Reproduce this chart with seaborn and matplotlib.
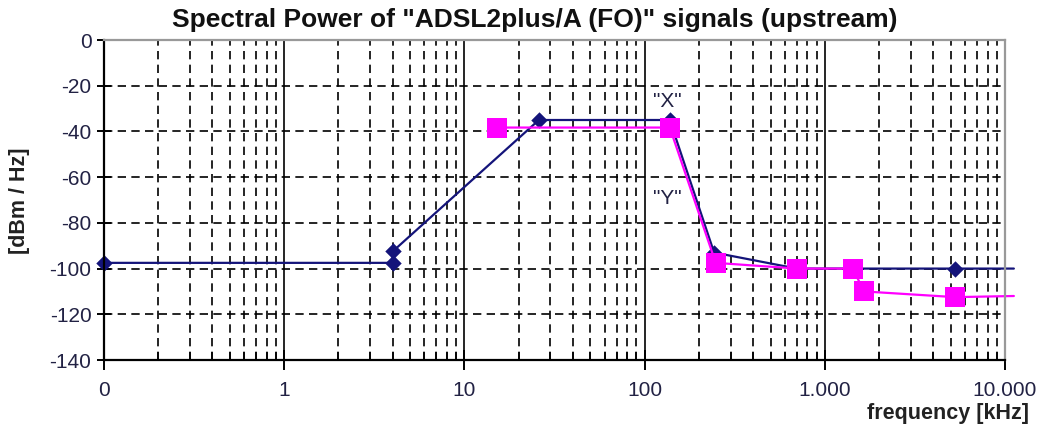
import numpy as np
import pandas as pd
import matplotlib
matplotlib.use("Agg")
import matplotlib.pyplot as plt
import seaborn as sns
from matplotlib.ticker import FixedLocator, FixedFormatter, LogLocator, NullFormatter

# ---- data ----
blue_freq = [0.1, 4.0, 4.0, 25.9, 138, 243, 700, 5300, 11200]
blue_dbm = [-97.5, -97.5, -92.5, -35, -35, -93, -100, -100, -100]
mag_freq = [15.2, 138, 248, 700, 1430, 1650, 5300, 11200]
mag_dbm = [-38.3, -38.3, -97.5, -100, -100, -110, -112.5, -112]
x_ticks = [0.1, 1, 10, 100, 1000, 10000]
x_ticklabels = ["0", "1", "10", "100", "1.000", "10.000"]
y_ticks = [0, -20, -40, -60, -80, -100, -120, -140]

NAVY = "#14147a"
MAGENTA = "#ff00ff"

sns.set_style("white")
plt.rcParams["font.family"] = ["Liberation Sans", "DejaVu Sans"]
plt.rcParams["axes.unicode_minus"] = False
plt.rcParams["xtick.bottom"] = True
plt.rcParams["ytick.left"] = True

fig = plt.figure(figsize=(10.43, 4.29), dpi=100)
ax = fig.add_axes([104 / 1043, 69 / 429, 901 / 1043, 320 / 429])

blue = pd.DataFrame({"f": blue_freq, "p": blue_dbm})
mag = pd.DataFrame({"f": mag_freq, "p": mag_dbm})

sns.lineplot(data=blue, x="f", y="p", sort=False, estimator=None, color=NAVY,
             lw=1.6, ax=ax)
ax.lines[-1].set_clip_on(False)
sns.scatterplot(data=blue.iloc[:-1], x="f", y="p", marker="D", s=70, color=NAVY,
                edgecolor=NAVY, linewidth=0, ax=ax, zorder=4)
for c in ax.collections:
    c.set_clip_on(False)

sns.lineplot(data=mag, x="f", y="p", sort=False, estimator=None, color=MAGENTA,
             lw=1.6, ax=ax)
ax.lines[-1].set_clip_on(False)
ax.lines[-1].set_zorder(5)
sns.scatterplot(data=mag.iloc[:-1], x="f", y="p", marker="s", s=190, color=MAGENTA,
                edgecolor=MAGENTA, linewidth=0, ax=ax, zorder=6)

ax.set_xscale("log")
ax.set_xlim(0.1, 10000)
ax.set_ylim(-140, 0)

ax.xaxis.set_major_locator(FixedLocator(x_ticks))
ax.xaxis.set_major_formatter(FixedFormatter(x_ticklabels))
ax.xaxis.set_minor_locator(LogLocator(base=10, subs=np.arange(2, 10)))
ax.xaxis.set_minor_formatter(NullFormatter())
ax.yaxis.set_major_locator(FixedLocator(y_ticks))

dash = (0, (5, 3.2))
ax.grid(which="major", axis="y", color="black", lw=1.2, ls=dash)
ax.grid(which="major", axis="x", color="black", lw=1.2, ls="-")
ax.grid(which="minor", axis="x", color="black", lw=1.2, ls=dash)
ax.set_axisbelow(True)

ax.tick_params(axis="x", which="major", direction="inout", length=14, width=1.4,
               labelsize=15, pad=8, colors="black", labelcolor="#222244",
               bottom=True)
ax.tick_params(axis="x", which="minor", direction="in", length=6, width=1.1,
               colors="black", bottom=True)
ax.tick_params(axis="y", which="major", direction="inout", length=10, width=1.4,
               labelsize=15, pad=4, colors="black", labelcolor="#222244", left=True)

for side in ["left", "bottom"]:
    ax.spines[side].set_color("black")
    ax.spines[side].set_linewidth(1.6)
    ax.spines[side].set_zorder(7)
for side in ["top", "right"]:
    ax.spines[side].set_color("#999999")
    ax.spines[side].set_linewidth(1.6)
    ax.spines[side].set_zorder(7)

ax.set_xlabel("frequency [kHz]", fontsize=15.5, fontweight="bold", color="#222222")
ax.xaxis.set_label_coords((948 - 104) / 901, -(413 - 360) / 320)
ax.xaxis.label.set_va("center")
ax.set_ylabel("[dBm / Hz]", fontsize=15.5, fontweight="bold", color="#222222")
ax.yaxis.set_label_coords((20 - 104) / 901, (360 - 201) / 320)
ax.yaxis.label.set_va("center")

ax.text(134, -26.9, '"X"', fontsize=15, ha="center", va="center", color="#222244")
ax.text(134, -69.4, '"Y"', fontsize=15, ha="center", va="center", color="#222244")

fig.text(535 / 1043, 1 - 20 / 429, 'Spectral Power of "ADSL2plus/A (FO)" signals (upstream)',
         fontsize=19, fontweight="bold", ha="center", va="center", color="#111111")

fig.savefig("out.png", dpi=100)
